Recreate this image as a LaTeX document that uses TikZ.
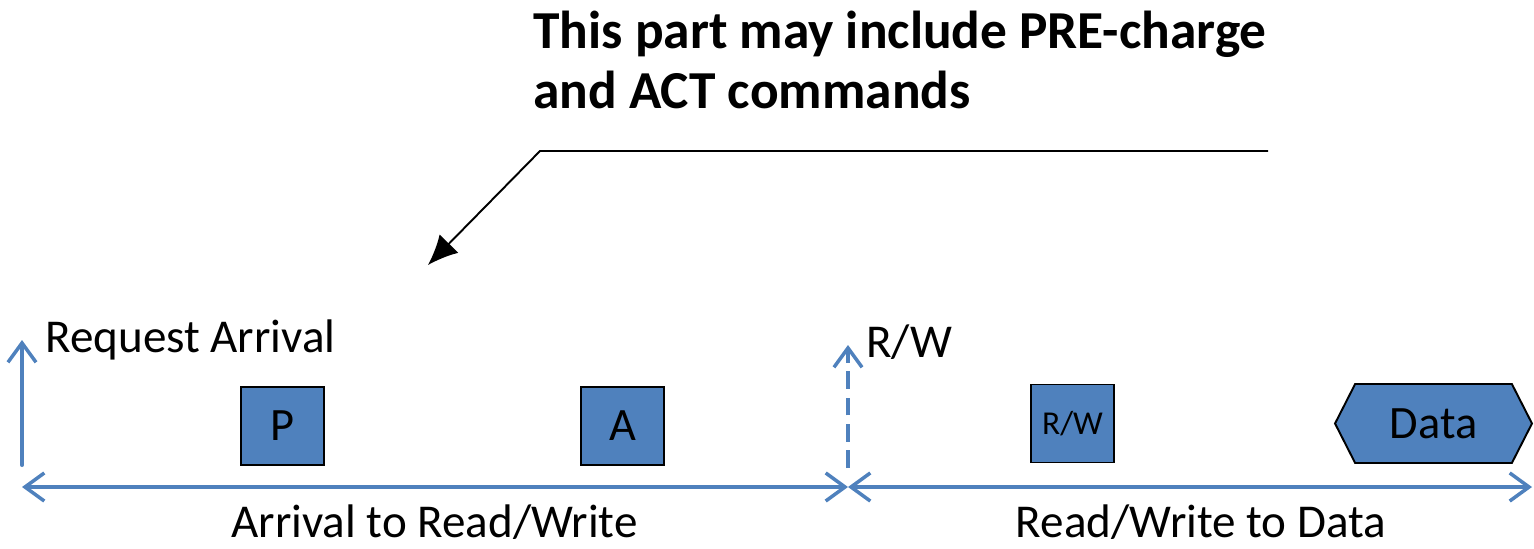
\documentclass[tikz,border=0pt]{standalone}
\usepackage{fontspec}
\setmainfont{Carlito}
\usepackage{xcolor}
\usetikzlibrary{arrows.meta, positioning, shapes.symbols}
\definecolor{cmdblue}{HTML}{4F81BD}

\begin{document}
\begin{tikzpicture}[x=0.02cm, y=-0.02cm, >={Straight Barb[length=11pt, width=16pt, line width=2pt]}]
    % Styles
    \tikzstyle{axis} = [draw=cmdblue, line width=2.3pt, line cap=round]
    \tikzstyle{cmd} = [rectangle, draw, line width=1.1pt, fill=cmdblue, minimum width=1.66cm, minimum height=1.56cm, inner sep=0pt, font=\fontsize{26.4}{30}\selectfont]
    \tikzstyle{lbl} = [inner sep=0pt, font=\fontsize{26.8}{30}\selectfont]

    \useasboundingbox (0,0) rectangle (1534,548);

    % Time line points
    \coordinate (t0) at (22,487);
    \coordinate (t1) at (848,487);
    \coordinate (t2) at (1532,487);
    \coordinate (reqlow) at (22,465);
    \coordinate (reqtop) at (22,340);
    \coordinate (rwlow) at (848,468);
    \coordinate (rwtop) at (848,345);

    % Nodes
    \node [cmd] (pre) at (282.5,426) {P};
    \node [cmd] (act) at (622.5,426) {A};
    \node [cmd, font=\fontsize{19}{22}\selectfont] (rw) at (1072.5,423.5) {R/W};
    \node [signal, signal to=east and west, signal pointer angle=126, draw, line width=1.1pt, fill=cmdblue, minimum width=3.94cm, minimum height=1.58cm, inner sep=0pt, font=\fontsize{26.4}{30}\selectfont] (data) at (1433.5,423.5) {Data};

    \node [lbl, anchor=base west] (reqtext) at (45,352) {Request Arrival};
    \node [lbl, anchor=base west] (rwtext) at (866,357) {R/W};
    \node [lbl, anchor=base] (span1) at (434.5,537) {Arrival to Read/Write};
    \node [lbl, anchor=base] (span2) at (1201,537) {Read/Write to Data};
    \node [anchor=north west, inner sep=0pt, align=left, font=\fontsize{30.4}{34}\selectfont\bfseries] (note) at (533,11) {This part may include PRE-charge\\and ACT commands};

    % Callout
    \coordinate (callend) at (1268,151);
    \coordinate (callbend) at (540,151);
    \coordinate (calltip) at (428,265);
    \draw [line width=1.1pt, -{Latex[length=17pt, width=15pt]}] (callend) -- (callbend) -- (calltip);

    % Connections
    \draw [axis, <->] (t0) -- (t1);
    \draw [axis, <->] (t1) -- (t2);
    \draw [axis, ->] (reqlow) -- (reqtop);
    \draw [axis, ->, line cap=butt, dash pattern=on 10pt off 5pt] (rwlow) -- (rwtop);

\end{tikzpicture}
\end{document}
